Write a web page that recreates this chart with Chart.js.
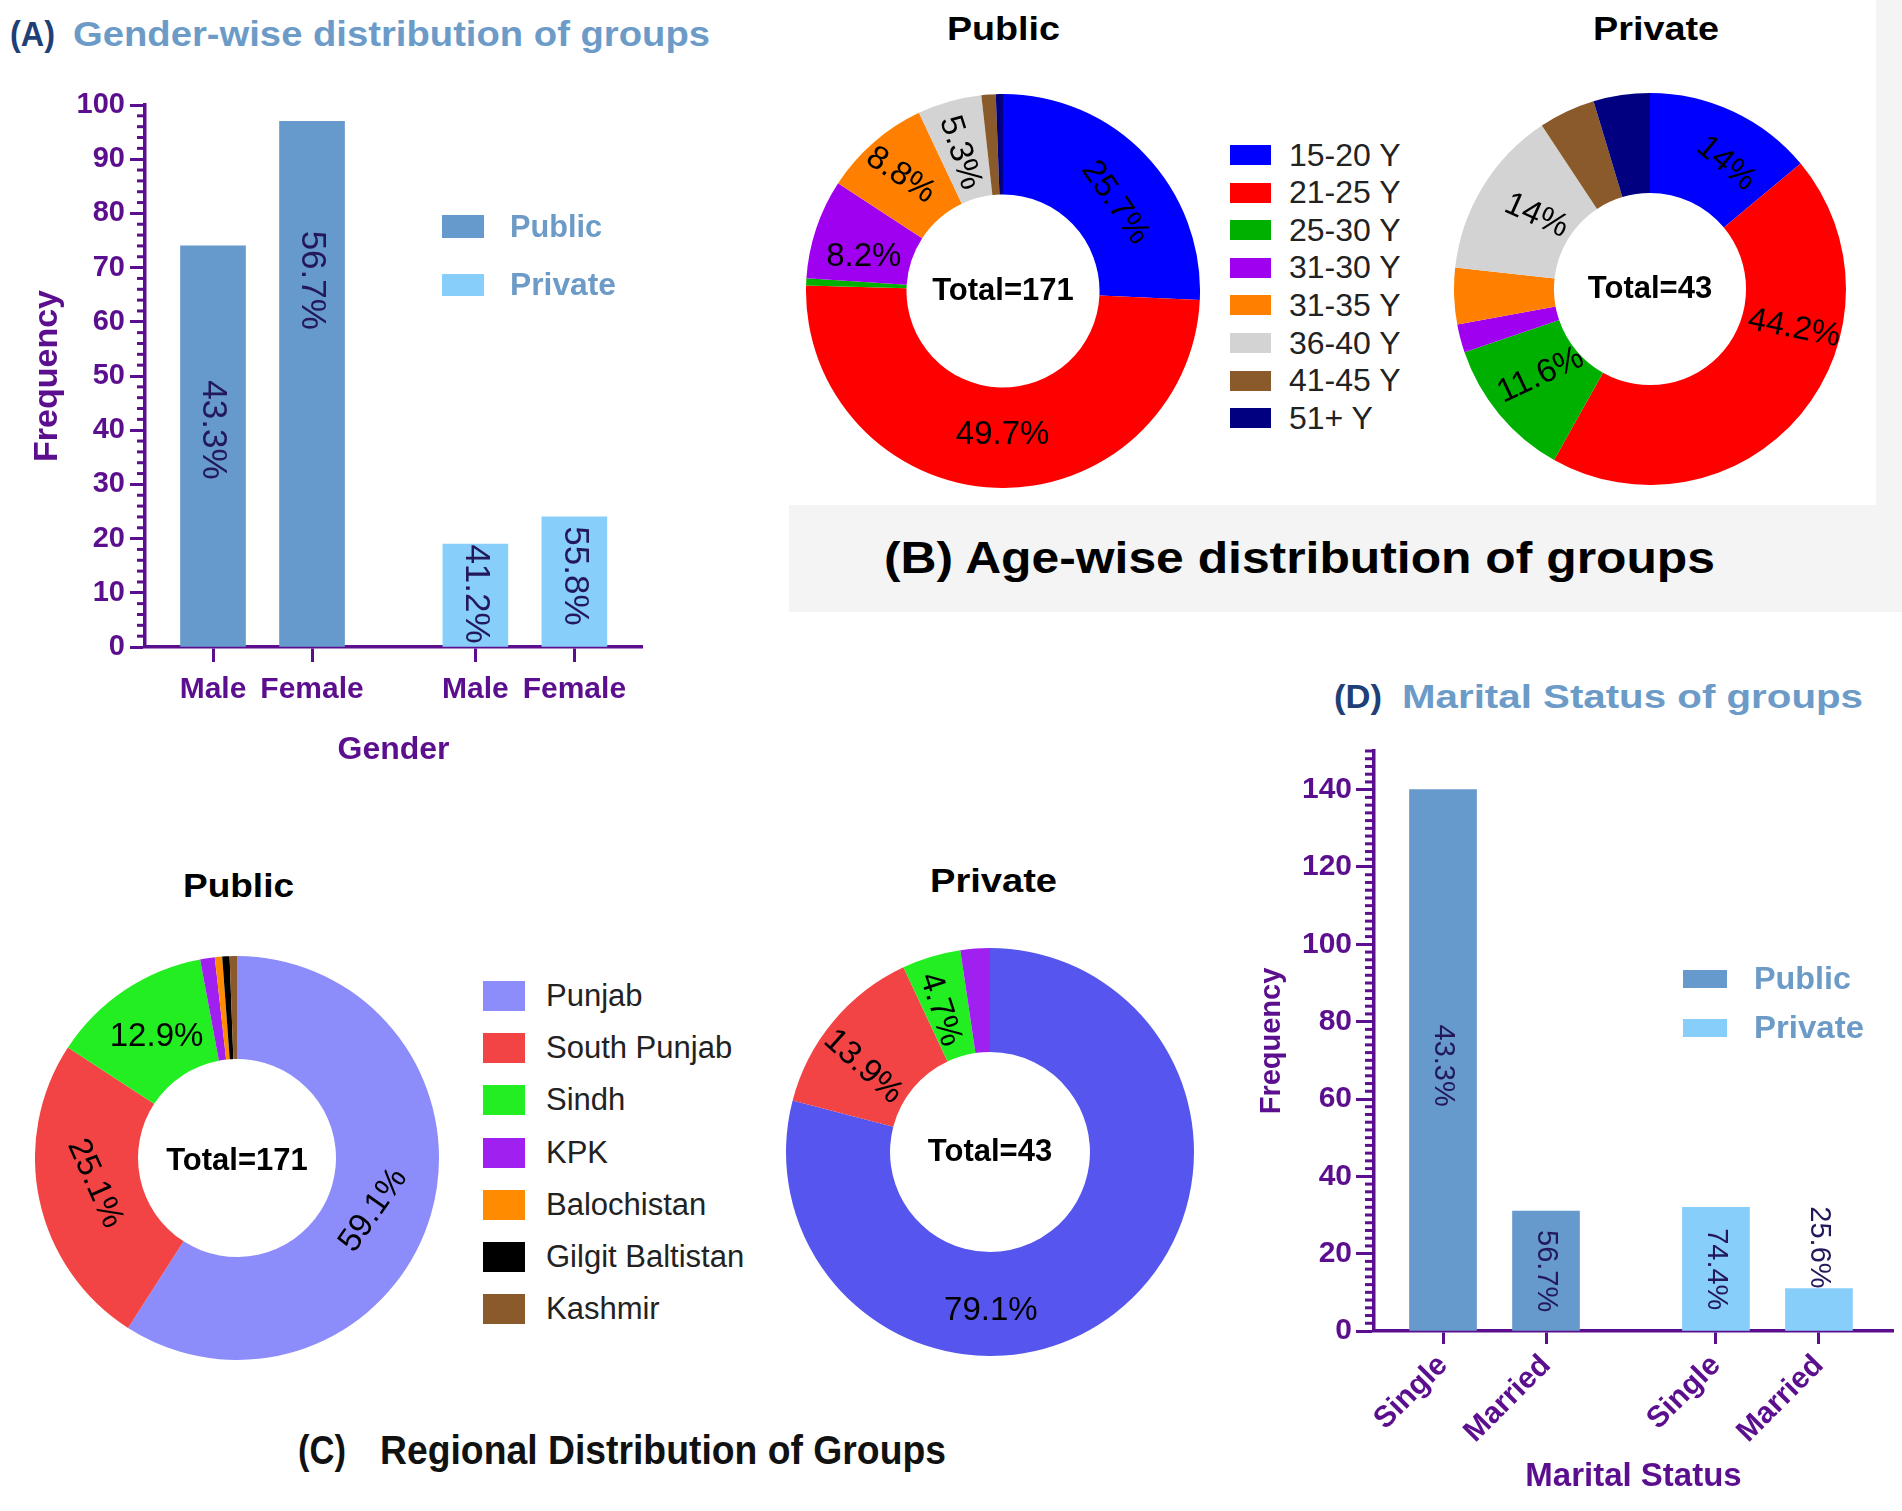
<!DOCTYPE html>
<html><head><meta charset="utf-8">
<script src="https://cdn.jsdelivr.net/npm/chart.js@4.4.1/dist/chart.umd.min.js"></script>
<style>
html,body{margin:0;padding:0;background:#fff;}
body{width:1902px;height:1511px;position:relative;overflow:hidden;font-family:"Liberation Sans",Arial,sans-serif;}
canvas{position:absolute;}
.txt{position:absolute;white-space:nowrap;line-height:1;transform-origin:0 50%;}
.box{position:absolute;}
</style></head><body>
<div class="box" style="left:789px;top:0;width:1113px;height:612px;background:#f4f4f4"></div>
<div class="box" style="left:789px;top:0;width:1087px;height:505px;background:#fff"></div>
<script>
// ---------------- DATA ----------------
const genderCategories = ['Male', 'Female', 'Male', 'Female'];
const genderPublic = [74, 97];
const genderPrivate = [19, 24];
const genderPctText = ['43.3%', '56.7%', '41.2%', '55.8%'];

const ageLabels = ['15-20 Y', '21-25 Y', '25-30 Y', '31-30 Y', '31-35 Y', '36-40 Y', '41-45 Y', '51+ Y'];
const agePublic = [44, 85, 1, 14, 15, 9, 2, 1];
const agePrivate = [6, 19, 5, 1, 2, 6, 2, 2];
const agePublicText = ['25.7%', '49.7%', '', '8.2%', '8.8%', '5.3%', '', ''];
const agePrivateText = ['14%', '44.2%', '11.6%', '', '', '14%', '', ''];

const regionLabels = ['Punjab', 'South Punjab', 'Sindh', 'KPK', 'Balochistan', 'Gilgit Baltistan', 'Kashmir'];
const regionPublic = [101, 43, 22, 2, 1, 1, 1];
const regionPrivate = [34, 6, 2, 1, 0, 0, 0];
const regionPublicText = ['59.1%', '25.1%', '12.9%', '', '', '', ''];
const regionPrivateText = ['79.1%', '13.9%', '4.7%', '', '', '', ''];

const maritalCategories = ['Single', 'Married', 'Single', 'Married'];
const maritalPublic = [140, 31];
const maritalPrivate = [32, 11];
const maritalPctText = ['43.3%', '56.7%', '74.4%', '25.6%'];

const seriesNames = ['Public', 'Private'];

// ---------------- STYLE ----------------
const FONT = '"Liberation Sans", Arial, sans-serif';
const PURPLE = '#5b0f8e';
const BAR_PUB = '#6699cc';
const BAR_PRI = '#87cefa';
const PCT_COLOR = '#22185a';
const TITLE_DARK = '#1f3f77';
const TITLE_LIGHT = '#6c9bc8';
const ageColors = ['#0000ff', '#ff0000', '#00b000', '#a000f0', '#ff8000', '#d3d3d3', '#8b5a2b', '#000080'];
const regionColorsPublic = ['#8c8cfa', '#f24444', '#22ee22', '#a020f0', '#ff8c00', '#000000', '#8b5a2b'];
const regionColorsPrivate = ['#5656ef', '#f24444', '#22ee22', '#a020f0', '#ff8c00', '#000000', '#8b5a2b'];

Chart.defaults.font.family = FONT;

// ---------------- HELPERS ----------------
function addText(str, o) {
  const s = document.createElement('span');
  s.className = 'txt';
  s.textContent = str;
  s.style.font = (o.weight || 'normal') + ' ' + o.size + 'px ' + (o.family || FONT);
  s.style.color = o.color || '#000';
  document.body.appendChild(s);
  const r = s.getBoundingClientRect();
  const w = o.w || r.width;
  const sx = w / r.width;
  const left = (o.cx !== undefined) ? o.cx - w / 2 : o.x;
  s.style.left = left + 'px';
  s.style.top = (o.cy - r.height / 2) + 'px';
  s.style.transform = 'scaleX(' + sx + ')';
}
function addBox(x, y, w, h, color) {
  const d = document.createElement('div');
  d.className = 'box';
  d.style.cssText = 'left:' + x + 'px;top:' + y + 'px;width:' + w + 'px;height:' + h + 'px;background:' + color;
  document.body.appendChild(d);
}
function makeCanvas(b) {
  const cv = document.createElement('canvas');
  cv.width = b.w; cv.height = b.h;
  cv.style.left = b.x + 'px'; cv.style.top = b.y + 'px';
  cv.style.width = b.w + 'px'; cv.style.height = b.h + 'px';
  document.body.appendChild(cv);
  return cv;
}

// ---------------- PLUGINS ----------------
const minorTicksPlugin = {
  id: 'minorTicks',
  afterDraw(chart, args, o) {
    const y = chart.scales.y, ctx = chart.ctx;
    ctx.save();
    ctx.strokeStyle = o.color; ctx.lineWidth = o.width;
    for (let v = y.min; v <= y.max + 1e-9; v += o.step) {
      if (Math.abs(v % o.major) < 1e-6) continue;
      const p = y.getPixelForValue(v);
      ctx.beginPath(); ctx.moveTo(y.right - o.length, p); ctx.lineTo(y.right, p); ctx.stroke();
    }
    ctx.restore();
  }
};
const barTextPlugin = {
  id: 'barText',
  afterDatasetsDraw(chart, args, o) {
    const ctx = chart.ctx;
    ctx.save();
    ctx.font = o.font; ctx.fillStyle = o.color; ctx.textAlign = 'center'; ctx.textBaseline = 'middle';
    let k = 0;
    chart.data.datasets.forEach((ds, di) => {
      chart.getDatasetMeta(di).data.forEach(el => {
        const t = o.texts[k], dy = o.offsets[k]; k++;
        ctx.save(); ctx.translate(el.x, el.y + dy); ctx.rotate(Math.PI / 2); ctx.fillText(t, 0, 0); ctx.restore();
      });
    });
    ctx.restore();
  }
};
const donutTextPlugin = {
  id: 'donutText',
  afterDatasetsDraw(chart, args, o) {
    const ctx = chart.ctx, meta = chart.getDatasetMeta(0);
    ctx.save();
    ctx.fillStyle = '#000'; ctx.textAlign = 'center'; ctx.textBaseline = 'middle';
    ctx.font = o.font;
    meta.data.forEach((arc, i) => {
      const t = o.texts[i]; if (!t) return;
      const p = arc.getCenterPoint();
      const off = o.offsets[i] || [0, 0];
      ctx.save(); ctx.translate(p.x + off[0], p.y + off[1]); ctx.rotate((o.rotations[i] || 0) * Math.PI / 180);
      ctx.fillText(t, 0, 0); ctx.restore();
    });
    const c = meta.data[0];
    ctx.font = o.centerFont;
    ctx.fillText(o.center, c.x, c.y + (o.centerDy || 0));
    ctx.restore();
  }
};

// ---------------- BAR CHART BUILDER ----------------
function barChart(c) {
  const cv = makeCanvas(c.box);
  const a = c.area, b = c.box;
  const nPub = c.pub.length;
  new Chart(cv, {
    type: 'bar',
    data: {
      datasets: [
        { label: seriesNames[0], data: c.pub.map((v, i) => ({ x: c.slots[i], y: v })), backgroundColor: BAR_PUB },
        { label: seriesNames[1], data: c.pri.map((v, i) => ({ x: c.slots[i + nPub], y: v })), backgroundColor: BAR_PRI }
      ]
    },
    options: {
      responsive: false, animation: false, devicePixelRatio: 1,
      layout: { padding: { top: a.top - b.y, right: b.x + b.w - a.right, left: 0, bottom: 0 } },
      datasets: { bar: { grouped: false, barThickness: c.barW, borderWidth: 0 } },
      plugins: {
        legend: { display: false }, tooltip: { enabled: false },
        minorTicks: { step: c.minor, major: c.step, length: c.minorLen, width: 3, color: PURPLE },
        barText: { texts: c.pctText, offsets: c.pctOffsets, font: c.pctFont, color: PCT_COLOR }
      },
      scales: {
        x: {
          type: 'linear', min: c.xMin, max: c.xMax, bounds: 'data', offset: false,
          afterBuildTicks: s => { s.ticks = c.slots.map(v => ({ value: v })); },
          afterFit: s => { s.height = b.y + b.h - a.bottom; },
          ticks: {
            callback: (v, i) => c.cats[i], autoSkip: false,
            maxRotation: c.xRot, minRotation: c.xRot,
            font: { size: c.xFont, weight: 'bold' }, color: PURPLE, padding: c.xPad
          },
          grid: { drawOnChartArea: false, drawTicks: true, tickLength: c.xTickLen, tickWidth: 3, tickColor: PURPLE, offset: false },
          border: { display: true, color: PURPLE, width: 3.5 },
          title: { display: true, text: c.xTitle, color: PURPLE, font: { size: c.xTitleFont, weight: 'bold' }, padding: { top: 0, bottom: c.xTitlePad } }
        },
        y: {
          min: 0, max: c.yMax, bounds: 'data',
          afterBuildTicks: s => { s.ticks = s.ticks.filter(t => Math.abs(t.value % c.step) < 1e-6); },
          afterFit: s => { s.width = a.left - b.x; },
          ticks: { stepSize: c.step, includeBounds: false, font: { size: c.yFont, weight: 'bold' }, color: PURPLE, padding: c.yPad },
          grid: { drawOnChartArea: false, drawTicks: true, tickLength: c.yTickLen, tickWidth: 3, tickColor: PURPLE },
          border: { display: true, color: PURPLE, width: 3.5 },
          title: { display: true, text: 'Frequency', color: PURPLE, font: { size: c.yTitleFont, weight: 'bold' }, padding: { top: c.yTitlePad, bottom: 0 } }
        }
      }
    },
    plugins: [minorTicksPlugin, barTextPlugin]
  });
}

// ---------------- DONUT BUILDER ----------------
function donut(c) {
  const b = { x: c.cx - c.R, y: c.cy - c.R, w: 2 * c.R, h: 2 * c.R };
  const cv = makeCanvas(b);
  new Chart(cv, {
    type: 'doughnut',
    data: { labels: c.labels, datasets: [{ data: c.values, backgroundColor: c.colors, borderWidth: 0, hoverOffset: 0, offset: 0 }] },
    options: {
      responsive: false, animation: false, devicePixelRatio: 1,
      cutout: c.cutout, rotation: 0,
      layout: { padding: 0 },
      plugins: {
        legend: { display: false }, tooltip: { enabled: false },
        donutText: { texts: c.texts, offsets: c.offsets, rotations: c.rotations, font: '33px ' + FONT,
                     center: c.center, centerFont: 'bold 31px ' + FONT, centerDy: c.centerDy || 0 }
      }
    },
    plugins: [donutTextPlugin]
  });
}
function htmlLegend(labels, colors, L) {
  labels.forEach((t, i) => {
    const cy = L.y0 + i * L.dy;
    addBox(L.boxX, cy - L.boxH / 2, L.boxW, L.boxH, colors[i]);
    addText(t, { x: L.textX, cy: cy, size: L.size, color: '#222' });
  });
}

// ---------------- PANEL A ----------------
addText('(A)', { x: 10, cy: 34, w: 45, size: 35, weight: 'bold', color: TITLE_DARK });
addText('Gender-wise distribution of groups', { x: 73, cy: 34, w: 637, size: 35, weight: 'bold', color: TITLE_LIGHT });
barChart({
  box: { x: 0, y: 60, w: 660, h: 730 }, area: { left: 145, top: 105, right: 642, bottom: 647 },
  slots: [0, 1, 2.65, 3.65], xMin: -0.687, xMax: 4.333, barW: 65,
  cats: genderCategories, pub: genderPublic, pri: genderPrivate,
  yMax: 100, step: 10, minor: 2, minorLen: 8, yTickLen: 15, yPad: 5, yFont: 29,
  xTickLen: 15, xPad: 10, xFont: 30, xRot: 0,
  xTitle: 'Gender', xTitleFont: 32, xTitlePad: 21, yTitleFont: 34, yTitlePad: 27,
  pctText: genderPctText, pctOffsets: [184, 159, 50, 59], pctFont: '35px ' + FONT
});
addBox(442, 215, 42, 23, BAR_PUB);
addBox(442, 274, 42, 22, BAR_PRI);
addText(seriesNames[0], { x: 510, cy: 227, w: 92, size: 31, weight: 'bold', color: TITLE_LIGHT });
addText(seriesNames[1], { x: 510, cy: 285, w: 106, size: 31, weight: 'bold', color: TITLE_LIGHT });

// ---------------- PANEL B ----------------
addText('Public', { cx: 1003, cy: 28, w: 113, size: 34, weight: 'bold' });
addText('Private', { cx: 1656, cy: 28, w: 126, size: 34, weight: 'bold' });
donut({ cx: 1003, cy: 291, R: 197, cutout: '49%', labels: ageLabels, values: agePublic, colors: ageColors,
  texts: agePublicText, center: 'Total=171',
  offsets: [[6, 13], [5, -3], [0, 0], [0, 12], [-6, -5], [-3, 3]],
  rotations: [55, 0, 0, 0, 34, 72] });
donut({ cx: 1650, cy: 289, R: 196, cutout: '49%', labels: ageLabels, values: agePrivate, colors: ageColors,
  texts: agePrivateText, center: 'Total=43',
  offsets: [[14, 7], [32, -54], [3, -7], [0, 0], [0, 0], [11, 3]],
  rotations: [40, 11, -25, 0, 0, 24] });
htmlLegend(ageLabels, ageColors, { boxX: 1230, boxW: 41, boxH: 20, y0: 155, dy: 37.6, textX: 1289, size: 32 });
addText('(B)  Age-wise distribution of groups', { x: 884, cy: 558, w: 831, size: 44, weight: 'bold' });

// ---------------- PANEL C ----------------
addText('Public', { x: 183, cy: 885, w: 111, size: 34, weight: 'bold' });
addText('Private', { x: 930, cy: 880, w: 127, size: 34, weight: 'bold' });
donut({ cx: 237, cy: 1158, R: 202, cutout: '49%', labels: regionLabels, values: regionPublic, colors: regionColorsPublic,
  texts: regionPublicText, center: 'Total=171', centerDy: 3,
  offsets: [[-8, 10], [5, -6], [3, 4]], rotations: [-55, 66, 0] });
donut({ cx: 990, cy: 1152, R: 204, cutout: '49%', labels: regionLabels, values: regionPrivate, colors: regionColorsPrivate,
  texts: regionPrivateText, center: 'Total=43',
  offsets: [[-92, 39], [-10, 12], [-6, 3]], rotations: [0, 42, 72] });
htmlLegend(regionLabels, regionColorsPublic, { boxX: 483, boxW: 42, boxH: 30, y0: 996, dy: 52.2, textX: 546, size: 31 });
addText('(C)', { x: 298, cy: 1450, w: 48, size: 40, weight: 'bold', color: '#111' });
addText('Regional Distribution of Groups', { x: 380, cy: 1450, w: 566, size: 40, weight: 'bold', color: '#111' });

// ---------------- PANEL D ----------------
addText('(D)', { x: 1334, cy: 696, w: 48, size: 34, weight: 'bold', color: TITLE_DARK });
addText('Marital Status of groups', { x: 1402, cy: 696, w: 461, size: 34, weight: 'bold', color: TITLE_LIGHT });
barChart({
  box: { x: 1230, y: 700, w: 672, h: 811 }, area: { left: 1374, top: 751, right: 1893, bottom: 1331 },
  slots: [0, 1, 2.65, 3.65], xMin: -0.670, xMax: 4.369, barW: 67,
  cats: maritalCategories, pub: maritalPublic, pri: maritalPrivate,
  yMax: 150, step: 20, minor: 2, minorLen: 9, yTickLen: 18, yPad: 4, yFont: 30,
  xTickLen: 13, xPad: 4, xFont: 30, xRot: 45,
  xTitle: 'Marital Status', xTitleFont: 33, xTitlePad: 14, yTitleFont: 29, yTitlePad: 25,
  pctText: maritalPctText, pctOffsets: [276, 60, 62, -41], pctFont: '29px ' + FONT
});
addBox(1683, 970, 44, 18, BAR_PUB);
addBox(1683, 1019, 44, 18, BAR_PRI);
addText(seriesNames[0], { x: 1754, cy: 979, w: 97, size: 31, weight: 'bold', color: TITLE_LIGHT });
addText(seriesNames[1], { x: 1754, cy: 1028, w: 110, size: 31, weight: 'bold', color: TITLE_LIGHT });
</script>
</body></html>
